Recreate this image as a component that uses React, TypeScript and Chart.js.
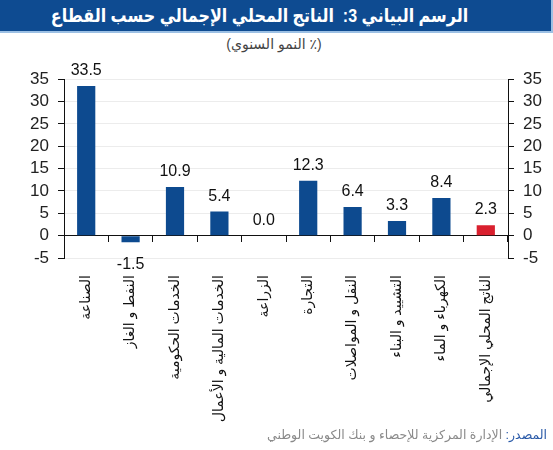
import React, { useEffect, useRef } from "react";
import { Chart, registerables } from "chart.js";

Chart.register(...registerables);

const categories = [
  "الصناعة",
  "النفط و الغاز",
  "الخدمات الحكومية",
  "الخدمات المالية و الأعمال",
  "الزراعة",
  "التجارة",
  "النقل و المواصلات",
  "التشييد و البناء",
  "الكهرباء و الماء",
  "الناتج المحلي الإجمالي",
];
const growth = [33.5, -1.5, 10.9, 5.4, 0.0, 12.3, 6.4, 3.3, 8.4, 2.3];
const barColors = [
  "#0d4a8f", "#0d4a8f", "#0d4a8f", "#0d4a8f", "#0d4a8f",
  "#0d4a8f", "#0d4a8f", "#0d4a8f", "#0d4a8f", "#d9202e",
];
const yMin = -5;
const yMax = 35;
const yStep = 5;

const titleText = "الرسم البياني 3:  الناتج المحلي الإجمالي حسب القطاع";
const subtitleText = "(٪ النمو السنوي)";
const sourceLabel = "المصدر:";
const sourceText = " الإدارة المركزية للإحصاء و بنك الكويت الوطني";

const FONT = "'Liberation Sans', Arial, 'DejaVu Sans', sans-serif";

const valueLabels = {
  id: "valueLabels",
  afterDatasetsDraw(chart: any) {
    const { ctx } = chart;
    const meta = chart.getDatasetMeta(0);
    const data = chart.data.datasets[0].data as number[];
    ctx.save();
    ctx.font = `16px ${FONT}`;
    ctx.fillStyle = "#111";
    ctx.textAlign = "center";
    ctx.textBaseline = "alphabetic";
    meta.data.forEach((bar: any, i: number) => {
      const v = data[i];
      const txt = v.toFixed(1);
      if (v < 0) {
        ctx.fillText(txt, bar.x, bar.y + 27);
      } else {
        ctx.fillText(txt, bar.x, bar.y - 11);
      }
    });
    ctx.restore();
  },
};

const CANVAS_H = 368;
const PLOT_BOTTOM = 198;

export default function App() {
  const ref = useRef<HTMLCanvasElement | null>(null);
  useEffect(() => {
    if (!ref.current) return;
    const yTicks = {
      stepSize: yStep,
      autoSkip: false,
      padding: 9,
      color: "#222",
      font: { size: 17, family: FONT },
    };
    const chart = new Chart(ref.current, {
      type: "bar",
      data: {
        labels: categories,
        datasets: [
          {
            data: growth,
            backgroundColor: barColors,
            categoryPercentage: 1,
            barPercentage: 0.41,
          },
        ],
      },
      options: {
        animation: false,
        responsive: false,
        maintainAspectRatio: false,
        layout: { padding: { top: 18, left: 0, right: 0, bottom: 0 } },
        plugins: { legend: { display: false }, tooltip: { enabled: false } },
        scales: {
          x: {
            type: "category",
            position: "bottom",
            offset: true,
            grid: { display: false, offset: true },
            border: { display: false },
            ticks: {
              maxRotation: 90,
              minRotation: 90,
              padding: 9,
              color: "#111",
              font: { size: 14, family: FONT },
              autoSkip: false,
            },
            afterFit: (s: any) => {
              s.height = CANVAS_H - PLOT_BOTTOM;
            },
          },
          xz: {
            type: "category",
            position: { y: 0 } as any,
            offset: true,
            grid: {
              display: true,
              offset: true,
              drawOnChartArea: false,
              tickLength: 6,
              color: "#111",
              tickColor: "#111",
            },
            border: { display: true, color: "#111", width: 1 },
            ticks: { display: false },
          },
          y: {
            position: "left",
            min: yMin,
            max: yMax,
            ticks: yTicks,
            grid: {
              color: "#ececec",
              tickColor: "#111",
              tickLength: 6,
            },
            border: { display: true, color: "#111", width: 1 },
            afterFit: (s: any) => {
              s.width = 64;
            },
          },
          y2: {
            position: "right",
            min: yMin,
            max: yMax,
            ticks: yTicks,
            grid: {
              drawOnChartArea: false,
              tickColor: "#111",
              tickLength: 6,
            },
            border: { display: true, color: "#111", width: 1 },
            afterFit: (s: any) => {
              s.width = 45;
            },
          },
        },
      },
      plugins: [valueLabels],
    });
    return () => chart.destroy();
  }, []);

  return (
    <div
      style={{
        position: "absolute",
        left: 0,
        top: 0,
        width: 553,
        height: 450,
        background: "#fff",
        overflow: "hidden",
        fontFamily: FONT,
      }}
    >
      <div
        style={{
          position: "absolute",
          left: 0,
          top: 0,
          width: 551,
          height: 31,
          background: "#0e4b91",
          borderBottom: "2px solid #9cc0e4",
          borderRight: "2px solid #9cc0e4",
          color: "#fff",
          fontWeight: "bold",
          fontSize: 19,
          lineHeight: "31px",
          textAlign: "center",
          direction: "rtl",
          whiteSpace: "pre",
        }}
      >
        <span
          style={{
            display: "inline-block",
            position: "relative",
            left: -16,
            transform: "scaleX(0.84)",
          }}
        >
          {titleText}
        </span>
      </div>
      <div
        style={{
          position: "absolute",
          left: 0,
          top: 36,
          width: 548,
          textAlign: "center",
          fontSize: 14,
          color: "#444",
          direction: "rtl",
        }}
      >
        {subtitleText}
      </div>
      <canvas
        ref={ref}
        width={553}
        height={CANVAS_H}
        style={{ position: "absolute", left: 0, top: 60, width: 553, height: CANVAS_H }}
      />
      <div
        style={{
          position: "absolute",
          right: 6,
          top: 427,
          fontSize: 12.5,
          color: "#8a8a8a",
          direction: "rtl",
          whiteSpace: "nowrap",
        }}
      >
        <span style={{ color: "#2a5aa8" }}>{sourceLabel}</span>
        {sourceText}
      </div>
    </div>
  );
}
